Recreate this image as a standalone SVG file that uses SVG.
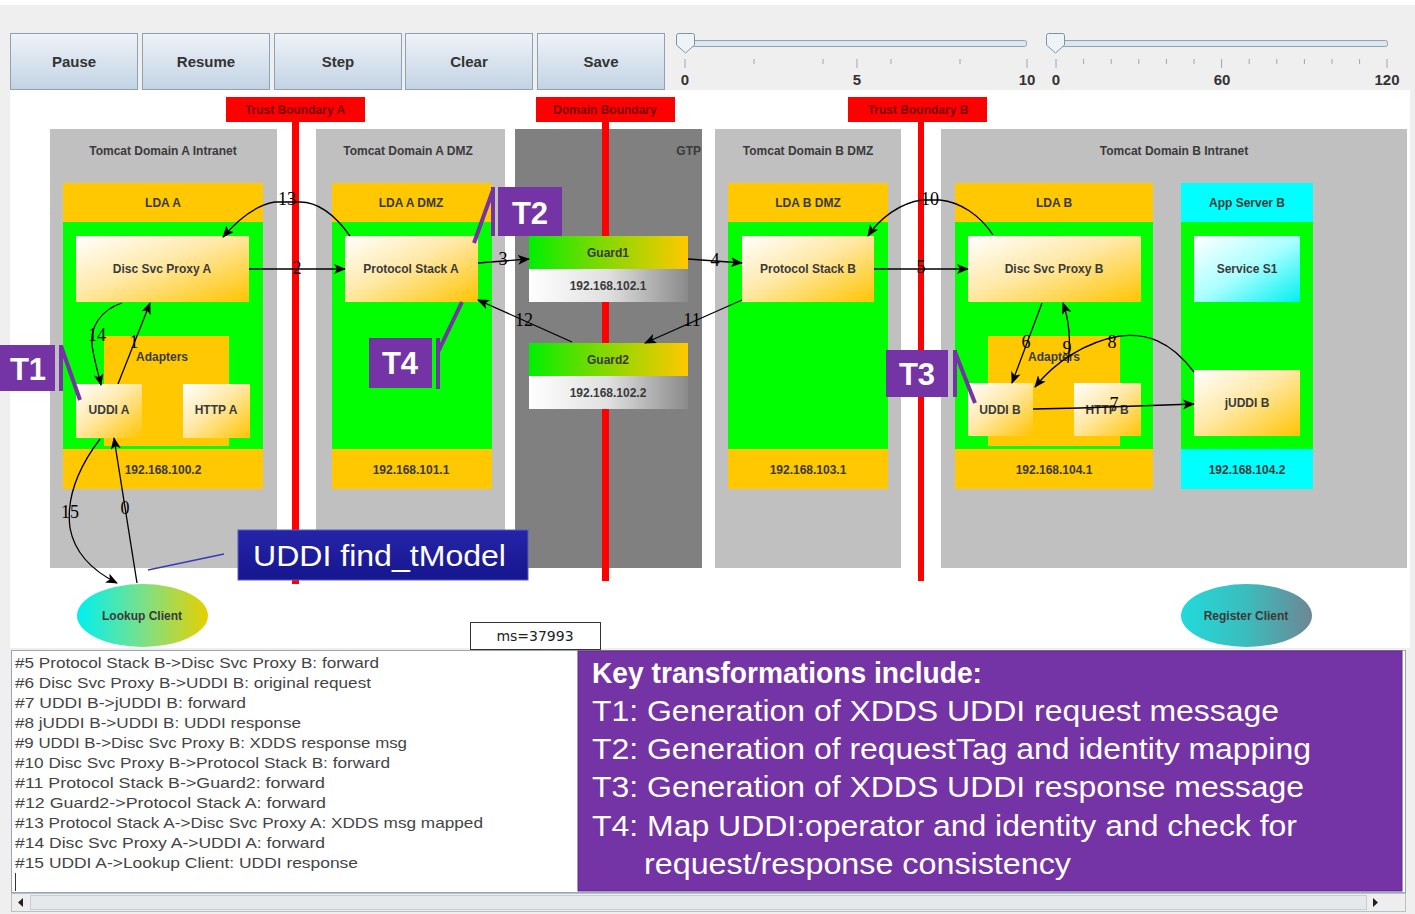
<svg xmlns="http://www.w3.org/2000/svg" width="1415" height="914" viewBox="0 0 1415 914">
<style>
.btn{fill:url(#btnGrad);stroke:#8ea2b6;stroke-width:1}
.btnt{font-family:"Liberation Sans",Arial,sans-serif;font-weight:bold;font-size:15px;fill:#333;text-anchor:middle}
.tick{stroke:#9aa8b4;stroke-width:1}
.slab{font-family:"Liberation Sans",Arial,sans-serif;font-weight:bold;font-size:15px;fill:#333;text-anchor:middle}
.dom{fill:#c0c0c0}
.lbl{font-family:"Liberation Sans",Arial,sans-serif;font-weight:bold;font-size:12px;fill:#3a3a3a;text-anchor:middle}
.bnd{fill:#ff0000}
.bndt{font-family:"Liberation Sans",Arial,sans-serif;font-weight:bold;font-size:12px;fill:#7a0000;text-anchor:middle}
.org{fill:#ffc800}
.grn{fill:#00ff00}
.cyn{fill:#00ffff}
.node{fill:url(#nodeGrad)}
.num{font-family:"Liberation Serif","Times New Roman",serif;font-size:18px;fill:#000;text-anchor:middle}
.conn{fill:none;stroke:#000;stroke-width:1.3}
.tbox{fill:#7434a6}
.tbar{stroke:#7434a6;stroke-width:4;fill:none}
.tt{font-family:"Liberation Sans",Arial,sans-serif;font-weight:bold;font-size:31px;fill:#fff;text-anchor:middle}
.log{font-family:"Liberation Sans",Arial,sans-serif;font-size:15px;fill:#444}
.key{font-family:"Liberation Sans",Arial,sans-serif;font-size:30px;fill:#fff}
</style>
<defs>
<linearGradient id="btnGrad" x1="0" y1="0" x2="0" y2="1"><stop offset="0" stop-color="#eef3f8"/><stop offset="1" stop-color="#c3d3e3"/></linearGradient>
<linearGradient id="nodeGrad" x1="0" y1="0" x2="1" y2="1"><stop offset="0" stop-color="#ffffff"/><stop offset="0.45" stop-color="#ffe9a8"/><stop offset="1" stop-color="#ffc400"/></linearGradient>
<linearGradient id="svcGrad" x1="0" y1="0" x2="1" y2="1"><stop offset="0" stop-color="#ffffff"/><stop offset="0.5" stop-color="#aaffff"/><stop offset="1" stop-color="#00f0f0"/></linearGradient>
<linearGradient id="guardGrad" x1="0" y1="0" x2="1" y2="0"><stop offset="0" stop-color="#00f000"/><stop offset="0.35" stop-color="#66dd00"/><stop offset="1" stop-color="#ffc800"/></linearGradient>
<linearGradient id="ipGrad" x1="0" y1="0" x2="1" y2="0"><stop offset="0" stop-color="#ffffff"/><stop offset="0.5" stop-color="#e0e0e0"/><stop offset="1" stop-color="#8a8a8a"/></linearGradient>
<linearGradient id="lookGrad" x1="0" y1="0" x2="1" y2="0"><stop offset="0" stop-color="#00f0f0"/><stop offset="0.5" stop-color="#7ae08a"/><stop offset="1" stop-color="#e6d000"/></linearGradient>
<linearGradient id="regGrad" x1="0" y1="0" x2="1" y2="0"><stop offset="0" stop-color="#22dada"/><stop offset="0.5" stop-color="#3cbcbc"/><stop offset="1" stop-color="#6e8694"/></linearGradient>
<linearGradient id="navyGrad" x1="0" y1="0" x2="0" y2="1"><stop offset="0" stop-color="#2424a8"/><stop offset="1" stop-color="#161690"/></linearGradient>
<marker id="ah" viewBox="0 0 12 10" refX="11" refY="5" markerWidth="12" markerHeight="10" markerUnits="userSpaceOnUse" orient="auto"><path d="M0,0 L12,5 L0,10 L3,5 z" fill="#000"/></marker>
</defs>

<!-- background / window -->
<rect x="0" y="0" width="1415" height="914" fill="#efefef"/>
<rect x="0" y="0" width="1415" height="5" fill="#ffffff"/>
<rect x="10" y="90" width="1400" height="558" fill="#ffffff"/>

<!-- toolbar -->
<g id="toolbar">
<rect class="btn" x="10.5" y="33.5" width="127" height="56"/>
<text class="btnt" x="74" y="67">Pause</text>
<rect class="btn" x="142.5" y="33.5" width="127" height="56"/>
<text class="btnt" x="206" y="67">Resume</text>
<rect class="btn" x="274.5" y="33.5" width="127" height="56"/>
<text class="btnt" x="338" y="67">Step</text>
<rect class="btn" x="405.5" y="33.5" width="127" height="56"/>
<text class="btnt" x="469" y="67">Clear</text>
<rect class="btn" x="537.5" y="33.5" width="127" height="56"/>
<text class="btnt" x="601" y="67">Save</text>
</g>

<g id="slider1">
<rect x="686.5" y="40.5" width="340" height="6" rx="2" fill="#dde6ee" stroke="#8ea2b6"/>
<g class="tick">
<line x1="685" y1="59" x2="685" y2="68"/><line x1="754" y1="59" x2="754" y2="64"/><line x1="823" y1="59" x2="823" y2="64"/><line x1="857" y1="59" x2="857" y2="68"/><line x1="891" y1="59" x2="891" y2="64"/><line x1="960" y1="59" x2="960" y2="64"/><line x1="1027" y1="59" x2="1027" y2="68"/>
</g>
<path d="M676.5,35.5 Q676.5,33.5 678.5,33.5 L692.5,33.5 Q694.5,33.5 694.5,35.5 L694.5,45 L685.5,53 L676.5,45 Z" fill="#eef3f8" stroke="#7f93a8"/>
<text class="slab" x="685" y="85">0</text>
<text class="slab" x="857" y="85">5</text>
<text class="slab" x="1027" y="85">10</text>
</g>
<g id="slider2">
<rect x="1057.5" y="40.5" width="330" height="6" rx="2" fill="#dde6ee" stroke="#8ea2b6"/>
<g class="tick">
<line x1="1056" y1="59" x2="1056" y2="68"/><line x1="1083.6" y1="59" x2="1083.6" y2="64"/><line x1="1111.2" y1="59" x2="1111.2" y2="64"/><line x1="1138.8" y1="59" x2="1138.8" y2="64"/><line x1="1166.4" y1="59" x2="1166.4" y2="64"/><line x1="1194" y1="59" x2="1194" y2="64"/><line x1="1221.6" y1="59" x2="1221.6" y2="68"/><line x1="1249.2" y1="59" x2="1249.2" y2="64"/><line x1="1276.8" y1="59" x2="1276.8" y2="64"/><line x1="1304.4" y1="59" x2="1304.4" y2="64"/><line x1="1332" y1="59" x2="1332" y2="64"/><line x1="1359.6" y1="59" x2="1359.6" y2="64"/><line x1="1387" y1="59" x2="1387" y2="68"/>
</g>
<path d="M1046.5,35.5 Q1046.5,33.5 1048.5,33.5 L1062.5,33.5 Q1064.5,33.5 1064.5,35.5 L1064.5,45 L1055.5,53 L1046.5,45 Z" fill="#eef3f8" stroke="#7f93a8"/>
<text class="slab" x="1056" y="85">0</text>
<text class="slab" x="1222" y="85">60</text>
<text class="slab" x="1387" y="85">120</text>
</g>

<!-- domains -->
<g id="domA-intranet"><rect class="dom" x="50" y="129" width="227" height="439"/><text class="lbl" x="163" y="155">Tomcat Domain A Intranet</text></g>
<g id="domA-dmz"><rect class="dom" x="316" y="129" width="189" height="439"/><text class="lbl" x="408" y="155">Tomcat Domain A DMZ</text></g>
<g id="gtp"><rect x="515" y="129" width="187" height="439" fill="#808080"/><text class="lbl" x="701" y="155" style="text-anchor:end">GTP</text></g>
<g id="domB-dmz"><rect class="dom" x="715" y="129" width="186" height="439"/><text class="lbl" x="808" y="155">Tomcat Domain B DMZ</text></g>
<g id="domB-intranet"><rect class="dom" x="941" y="129" width="466" height="439"/><text class="lbl" x="1174" y="155">Tomcat Domain B Intranet</text></g>

<!-- boundaries -->
<g id="trust-boundary-a"><rect class="bnd" x="292" y="122" width="7" height="462"/><rect class="bnd" x="226" y="97" width="139" height="25"/><text class="bndt" x="295" y="114">Trust Boundary A</text></g>
<g id="domain-boundary"><rect class="bnd" x="602" y="122" width="7" height="459"/><rect class="bnd" x="536" y="97" width="139" height="25"/><text class="bndt" x="605" y="114">Domain Boundary</text></g>
<g id="trust-boundary-b"><rect class="bnd" x="918" y="122" width="6" height="459"/><rect class="bnd" x="848" y="97" width="139" height="25"/><text class="bndt" x="918" y="114">Trust Boundary B</text></g>

<!-- LDA A -->
<g id="lda-a">
<rect class="org" x="63" y="183" width="200" height="306"/>
<rect class="grn" x="63" y="222" width="200" height="227"/>
<text class="lbl" x="163" y="207">LDA A</text>
<text class="lbl" x="163" y="474">192.168.100.2</text>
</g>
<g id="disc-svc-proxy-a"><rect class="node" x="76" y="236" width="173" height="66"/><text class="lbl" x="162" y="273">Disc Svc Proxy A</text></g>
<g id="adapters-a"><rect class="org" x="104" y="336" width="125" height="110"/><text class="lbl" x="162" y="361">Adapters</text></g>
<g id="uddi-a"><rect class="node" x="76" y="384" width="66" height="54"/><text class="lbl" x="109" y="414">UDDI A</text></g>
<g id="http-a"><rect class="node" x="183" y="384" width="67" height="54"/><text class="lbl" x="216" y="414">HTTP A</text></g>

<!-- LDA A DMZ -->
<g id="lda-a-dmz">
<rect class="org" x="332" y="183" width="160" height="306"/>
<rect class="grn" x="332" y="222" width="160" height="227"/>
<text class="lbl" x="411" y="207">LDA A DMZ</text>
<text class="lbl" x="411" y="474">192.168.101.1</text>
</g>
<g id="protocol-stack-a"><rect class="node" x="345" y="236" width="133" height="66"/><text class="lbl" x="411" y="273">Protocol Stack A</text></g>

<!-- Guards -->
<g id="guard1">
<rect x="529" y="236" width="159" height="33" fill="url(#guardGrad)"/>
<rect x="529" y="269" width="159" height="33" fill="url(#ipGrad)"/>
<text class="lbl" x="608" y="257">Guard1</text>
<text class="lbl" x="608" y="290">192.168.102.1</text>
</g>
<g id="guard2">
<rect x="529" y="343" width="159" height="33" fill="url(#guardGrad)"/>
<rect x="529" y="376" width="159" height="33" fill="url(#ipGrad)"/>
<text class="lbl" x="608" y="364">Guard2</text>
<text class="lbl" x="608" y="397">192.168.102.2</text>
</g>

<!-- LDA B DMZ -->
<g id="lda-b-dmz">
<rect class="org" x="728" y="183" width="160" height="306"/>
<rect class="grn" x="728" y="222" width="160" height="227"/>
<text class="lbl" x="808" y="207">LDA B DMZ</text>
<text class="lbl" x="808" y="474">192.168.103.1</text>
</g>
<g id="protocol-stack-b"><rect class="node" x="742" y="236" width="132" height="66"/><text class="lbl" x="808" y="273">Protocol Stack B</text></g>

<!-- LDA B -->
<g id="lda-b">
<rect class="org" x="955" y="183" width="198" height="306"/>
<rect class="grn" x="955" y="222" width="198" height="227"/>
<text class="lbl" x="1054" y="207">LDA B</text>
<text class="lbl" x="1054" y="474">192.168.104.1</text>
</g>
<g id="disc-svc-proxy-b"><rect class="node" x="968" y="236" width="173" height="66"/><text class="lbl" x="1054" y="273">Disc Svc Proxy B</text></g>
<g id="adapters-b"><rect class="org" x="988" y="336" width="132" height="110"/><text class="lbl" x="1054" y="361">Adapters</text></g>
<g id="uddi-b"><rect class="node" x="968" y="383" width="65" height="53"/><text class="lbl" x="1000" y="414">UDDI B</text></g>
<g id="http-b"><rect class="node" x="1074" y="383" width="67" height="53"/><text class="lbl" x="1107" y="414">HTTP B</text></g>

<!-- App Server B -->
<g id="app-server-b">
<rect class="cyn" x="1181" y="183" width="132" height="306"/>
<rect class="grn" x="1181" y="222" width="132" height="227"/>
<text class="lbl" x="1247" y="207">App Server B</text>
<text class="lbl" x="1247" y="474">192.168.104.2</text>
</g>
<g id="service-s1"><rect x="1194" y="236" width="106" height="66" fill="url(#svcGrad)"/><text class="lbl" x="1247" y="273">Service S1</text></g>
<g id="juddi-b"><rect class="node" x="1194" y="370" width="106" height="66"/><text class="lbl" x="1247" y="407">jUDDI B</text></g>

<!-- clients -->
<g id="lookup-client"><ellipse cx="142.5" cy="615.5" rx="65.5" ry="31.5" fill="url(#lookGrad)"/><text class="lbl" x="142" y="620">Lookup Client</text></g>
<g id="register-client"><ellipse cx="1246.5" cy="615.5" rx="65.5" ry="31.5" fill="url(#regGrad)"/><text class="lbl" x="1246" y="620">Register Client</text></g>

<!-- connectors -->
<g id="connectors">
<path class="conn" marker-end="url(#ah)" d="M118,384 L150,303"/>
<path class="conn" marker-end="url(#ah)" d="M249,269 L345,269"/>
<path class="conn" marker-end="url(#ah)" d="M478,263 L529,259"/>
<path class="conn" marker-end="url(#ah)" d="M688,259 L742,263"/>
<path class="conn" marker-end="url(#ah)" d="M874,269 L968,269"/>
<path class="conn" marker-end="url(#ah)" d="M1042,303 L1012,383"/>
<path class="conn" marker-end="url(#ah)" d="M1033,409 L1080,408 L1194,404"/>
<path class="conn" marker-end="url(#ah)" d="M1194,372 C1170,340 1145,333 1120,336 C1085,342 1055,362 1035,387"/>
<path class="conn" marker-end="url(#ah)" d="M1068,363 C1071,340 1069,320 1063,303"/>
<path class="conn" marker-end="url(#ah)" d="M993,235 C980,215 960,202 940,200 L922,200 C900,203 880,218 868,236"/>
<path class="conn" marker-end="url(#ah)" d="M742,300 L645,343"/>
<path class="conn" marker-end="url(#ah)" d="M572,342 L478,300"/>
<path class="conn" marker-end="url(#ah)" d="M350,236 C335,215 318,202 300,202 L275,202 C255,205 236,222 223,237"/>
<path class="conn" marker-end="url(#ah)" d="M122,303 C100,310 90,328 92,345 C94,360 98,372 101,385"/>
<path class="conn" marker-end="url(#ah)" d="M100,439 C78,468 66,498 70,528 C75,555 95,572 117,583"/>
<path class="conn" marker-end="url(#ah)" d="M137,583 L114,438"/>
<line x1="148" y1="570" x2="224" y2="554" stroke="#3a3ab8" stroke-width="1.3"/>
<text class="num" x="134" y="348">1</text>
<text class="num" x="297" y="274">2</text>
<text class="num" x="503" y="265">3</text>
<text class="num" x="715" y="266">4</text>
<text class="num" x="921" y="273">5</text>
<text class="num" x="1026" y="348">6</text>
<text class="num" x="1114" y="410">7</text>
<text class="num" x="1112" y="348">8</text>
<text class="num" x="1067" y="354">9</text>
<text class="num" x="930" y="205">10</text>
<text class="num" x="692" y="326">11</text>
<text class="num" x="524" y="326">12</text>
<text class="num" x="287" y="205">13</text>
<text class="num" x="97" y="341">14</text>
<text class="num" x="70" y="518">15</text>
<text class="num" x="125" y="514">0</text>
</g>

<!-- transformation callouts -->
<g id="t1"><rect class="tbox" x="0" y="345" width="55" height="46"/><line class="tbar" x1="61" y1="345" x2="61" y2="391"/><line class="tbar" x1="61" y1="346" x2="80" y2="400"/><text class="tt" x="28" y="380">T1</text></g>
<g id="t2"><rect class="tbox" x="498" y="187" width="64" height="49"/><line class="tbar" x1="493" y1="187" x2="493" y2="236"/><line class="tbar" x1="493" y1="190" x2="474" y2="243"/><text class="tt" x="530" y="224">T2</text></g>
<g id="t3"><rect class="tbox" x="886" y="350" width="62" height="47"/><line class="tbar" x1="955" y1="350" x2="955" y2="397"/><line class="tbar" x1="955" y1="352" x2="975" y2="403"/><text class="tt" x="917" y="385">T3</text></g>
<g id="t4"><rect class="tbox" x="369" y="338" width="63" height="50"/><line class="tbar" x1="438" y1="338" x2="438" y2="389"/><line class="tbar" x1="462" y1="302" x2="438" y2="352"/><text class="tt" x="400" y="374">T4</text></g>

<g id="uddi-find-tmodel"><rect x="238" y="530" width="290" height="50" fill="url(#navyGrad)" stroke="#5a5ac0" stroke-width="1"/><text x="253" y="566" font-family="Liberation Sans, Arial, sans-serif" font-size="30" fill="#ffffff" textLength="253" lengthAdjust="spacingAndGlyphs">UDDI find_tModel</text></g>

<g id="ms-counter"><rect x="470.5" y="622.5" width="130" height="27" fill="#fff" stroke="#333"/><text x="535" y="641" font-family="DejaVu Sans, sans-serif" font-size="14" fill="#222" text-anchor="middle">ms=37993</text></g>

<!-- log -->
<g id="log">
<rect x="11.5" y="650.5" width="1394" height="242" fill="#ffffff" stroke="#9aa6b2"/>
<text class="log" x="15" y="668" textLength="364" lengthAdjust="spacingAndGlyphs">#5 Protocol Stack B-&gt;Disc Svc Proxy B: forward</text>
<text class="log" x="15" y="688" textLength="356" lengthAdjust="spacingAndGlyphs">#6 Disc Svc Proxy B-&gt;UDDI B: original request</text>
<text class="log" x="15" y="708" textLength="231" lengthAdjust="spacingAndGlyphs">#7 UDDI B-&gt;jUDDI B: forward</text>
<text class="log" x="15" y="728" textLength="286" lengthAdjust="spacingAndGlyphs">#8 jUDDI B-&gt;UDDI B: UDDI response</text>
<text class="log" x="15" y="748" textLength="392" lengthAdjust="spacingAndGlyphs">#9 UDDI B-&gt;Disc Svc Proxy B: XDDS response msg</text>
<text class="log" x="15" y="768" textLength="375" lengthAdjust="spacingAndGlyphs">#10 Disc Svc Proxy B-&gt;Protocol Stack B: forward</text>
<text class="log" x="15" y="788" textLength="310" lengthAdjust="spacingAndGlyphs">#11 Protocol Stack B-&gt;Guard2: forward</text>
<text class="log" x="15" y="808" textLength="311" lengthAdjust="spacingAndGlyphs">#12 Guard2-&gt;Protocol Stack A: forward</text>
<text class="log" x="15" y="828" textLength="468" lengthAdjust="spacingAndGlyphs">#13 Protocol Stack A-&gt;Disc Svc Proxy A: XDDS msg mapped</text>
<text class="log" x="15" y="848" textLength="310" lengthAdjust="spacingAndGlyphs">#14 Disc Svc Proxy A-&gt;UDDI A: forward</text>
<text class="log" x="15" y="868" textLength="343" lengthAdjust="spacingAndGlyphs">#15 UDDI A-&gt;Lookup Client: UDDI response</text>
<line x1="15.5" y1="873" x2="15.5" y2="891" stroke="#333"/>
<rect x="11.5" y="893.5" width="1394" height="18" fill="#eeeeee" stroke="#b8c0c8"/>
<rect x="30.5" y="895.5" width="1336" height="14" fill="#e6e9ec" stroke="#c8cdd2"/>
<path d="M18,902.5 L23,898 L23,907 Z" fill="#222"/>
<path d="M1373,898 L1378,902.5 L1373,907 Z" fill="#222"/>
</g>

<g id="key-box">
<rect x="578" y="651" width="824" height="240" fill="#7434a6" stroke="#5c2a8a" stroke-width="1"/>
<text class="key" x="592" y="683" font-weight="bold" font-size="27" textLength="390" lengthAdjust="spacingAndGlyphs">Key transformations include:</text>
<text class="key" x="592" y="721" textLength="687" lengthAdjust="spacingAndGlyphs">T1: Generation of XDDS UDDI request message</text>
<text class="key" x="592" y="759" textLength="719" lengthAdjust="spacingAndGlyphs">T2: Generation of requestTag and identity mapping</text>
<text class="key" x="592" y="797" textLength="712" lengthAdjust="spacingAndGlyphs">T3: Generation of XDDS UDDI response message</text>
<text class="key" x="592" y="836" textLength="705" lengthAdjust="spacingAndGlyphs">T4: Map UDDI:operator and identity and check for</text>
<text class="key" x="644" y="874" textLength="427" lengthAdjust="spacingAndGlyphs">request/response consistency</text>
</g>
</svg>
